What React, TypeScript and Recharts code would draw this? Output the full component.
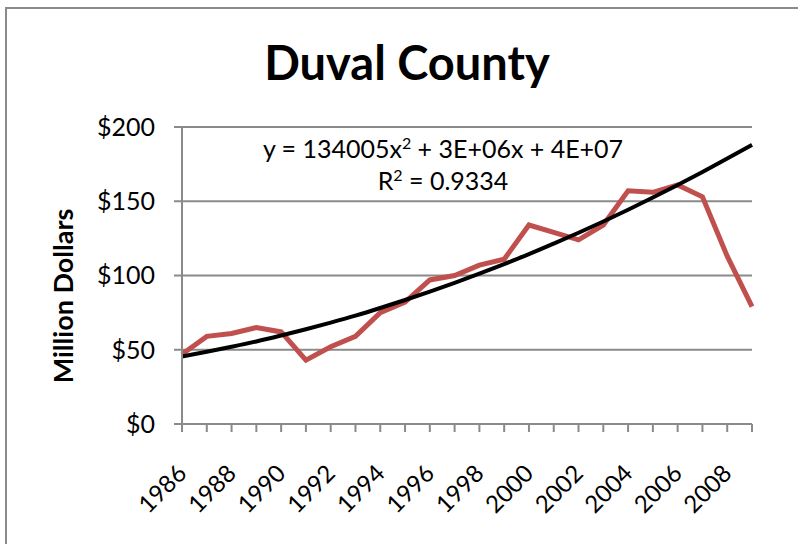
import { CartesianGrid, Line, LineChart, XAxis, YAxis } from "recharts";

// values in million dollars
const years = [
  "1986", "1987", "1988", "1989", "1990", "1991", "1992", "1993", "1994", "1995", "1996", "1997",
  "1998", "1999", "2000", "2001", "2002", "2003", "2004", "2005", "2006", "2007", "2008", "2009"
];
const revenue = [47, 59, 61, 65, 62, 43, 52, 59, 75, 82, 97, 100, 107, 111, 134, 129, 124, 134, 157, 156, 161, 153, 113, 79];
// polynomial trendline as drawn
const trend = [
  45.5, 48.6, 52.0, 55.6, 59.6, 63.8, 68.3, 73.0, 78.1, 83.5, 89.1, 95.0,
  101.2, 107.7, 114.4, 121.5, 128.8, 136.4, 144.3, 152.5, 161.0, 169.7, 178.8, 188.0
];
const yTicks = [0, 50, 100, 150, 200];

const data = years.map((year, i) => ({ year, revenue: revenue[i], trend: trend[i] }));

const font = "Lato, 'Open Sans', sans-serif";
const axisColor = "#8a8a8a";

function YearTick(props: any) {
  const { x, y, payload, index } = props;
  if (index % 2 !== 0) return null;
  const tx = x + 6;
  const ty = y + 41;
  return (
    <text
      x={tx}
      y={ty}
      transform={`rotate(-45 ${tx} ${ty})`}
      textAnchor="end"
      fontSize={24}
      fontFamily={font}
      fill="#000"
    >
      {payload.value}
    </text>
  );
}

export default function App() {
  return (
    <div style={{ position: "relative", width: 798, height: 544, background: "#fff", overflow: "hidden" }}>
      <style>{`body{margin:0}`}</style>
      <div
        style={{
          position: "absolute",
          left: 5,
          top: 7,
          width: 820,
          height: 560,
          borderLeft: `2px solid ${axisColor}`,
          borderTop: `2px solid ${axisColor}`
        }}
      />
      <div style={{ position: "absolute", left: 0, top: 0 }}>
        <LineChart width={798} height={544} data={data} margin={{ top: 127, right: 46, bottom: 0, left: 0 }}>
          <CartesianGrid vertical={false} stroke={axisColor} strokeWidth={2} />
          <XAxis
            dataKey="year"
            interval={0}
            height={120}
            stroke={axisColor}
            strokeWidth={2}
            tickSize={8}
            tick={<YearTick />}
          />
          <YAxis
            domain={[0, 200]}
            ticks={yTicks}
            width={182}
            stroke={axisColor}
            strokeWidth={2}
            tickSize={8}
            tickMargin={19}
            tickFormatter={(v) => `$${v}`}
            tick={{ fontSize: 25, fill: "#000", fontFamily: font }}
          />
          <Line
            type="linear"
            dataKey="revenue"
            stroke="#c0504d"
            strokeWidth={5}
            dot={false}
            isAnimationActive={false}
          />
          <Line
            type="monotone"
            dataKey="trend"
            stroke="#000"
            strokeWidth={4}
            dot={false}
            isAnimationActive={false}
          />
        </LineChart>
      </div>
      <svg width={798} height={544} style={{ position: "absolute", left: 0, top: 0, pointerEvents: "none" }}>
        <text x={407} y={80} textAnchor="middle" fontSize={47} fontWeight="bold" fontFamily={font} fill="#000">
          Duval County
        </text>
        <text
          x={73}
          y={296}
          transform="rotate(-90 73 296)"
          textAnchor="middle"
          fontSize={27}
          fontWeight="bold"
          fontFamily={font}
          fill="#000"
        >
          Million Dollars
        </text>
        <text x={443} y={158} textAnchor="middle" fontSize={25} fontFamily={font} fill="#000">
          y = 134005x<tspan dy={-9} fontSize={16}>2</tspan>
          <tspan dy={9}> + 3E+06x + 4E+07</tspan>
        </text>
        <text x={443} y={190} textAnchor="middle" fontSize={25} fontFamily={font} fill="#000">
          R<tspan dy={-9} fontSize={16}>2</tspan>
          <tspan dy={9}> = 0.9334</tspan>
        </text>
      </svg>
    </div>
  );
}
